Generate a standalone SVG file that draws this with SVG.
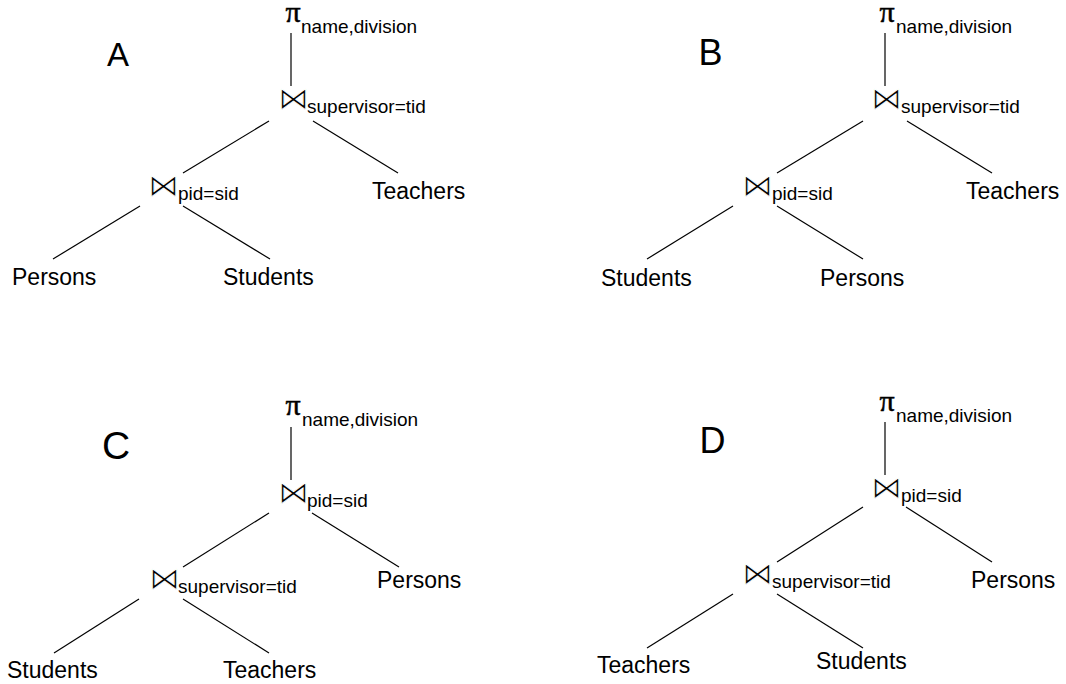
<svg xmlns="http://www.w3.org/2000/svg" width="1066" height="684" viewBox="0 0 1066 684">
<style>
text{fill:#000;font-family:"Liberation Sans",Arial,sans-serif}
.lbl{font-size:23px}
.sub{font-size:19px}
.pi{font-family:"Liberation Serif","Times New Roman",serif;font-size:30px;stroke:#000;stroke-width:0.5px}
.bt{font-family:"DejaVu Sans",sans-serif;font-size:31px;stroke:#fff;stroke-width:0.9px;paint-order:normal}
.edge line{stroke:#000;stroke-width:1.2;fill:none}
</style>
<rect width="1066" height="684" fill="#fff"/>
<g class="edge" id="connectors">
<line x1="291" y1="33" x2="291" y2="86"/>
<line x1="269" y1="121" x2="183" y2="173"/>
<line x1="313" y1="121" x2="398" y2="173"/>
<line x1="140" y1="206" x2="53" y2="259"/>
<line x1="183" y1="206" x2="270" y2="259"/>
<line x1="885" y1="33" x2="885" y2="86"/>
<line x1="863" y1="121" x2="777" y2="173"/>
<line x1="907" y1="121" x2="992" y2="173"/>
<line x1="733" y1="206" x2="647" y2="259"/>
<line x1="777" y1="206" x2="863" y2="259"/>
<line x1="291" y1="427" x2="291" y2="480"/>
<line x1="269" y1="513" x2="183" y2="567"/>
<line x1="312" y1="513" x2="399" y2="567"/>
<line x1="139" y1="599" x2="54" y2="653"/>
<line x1="183" y1="599" x2="269" y2="653"/>
<line x1="885" y1="422" x2="885" y2="475"/>
<line x1="863" y1="507" x2="777" y2="562"/>
<line x1="906" y1="507" x2="992" y2="562"/>
<line x1="733" y1="594" x2="647" y2="648"/>
<line x1="777" y1="594" x2="863" y2="648"/>
</g>
<!-- Panel A -->
<g id="labelA"><text x="107" y="65.5" font-size="33">A</text></g>
<g id="A-proj"><text><tspan class="pi" x="285.5" y="21.5">π</tspan><tspan class="sub" x="301" y="33">name,division</tspan></text></g>
<g id="A-join1"><text><tspan class="bt" x="278" y="109">⋈</tspan><tspan class="sub" x="307" y="113">supervisor=tid</tspan></text></g>
<g id="A-join2"><text><tspan class="bt" x="148" y="196">⋈</tspan><tspan class="sub" x="178" y="200">pid=sid</tspan></text></g>
<g id="A-teachers"><text class="lbl" x="372" y="199">Teachers</text></g>
<g id="A-persons"><text class="lbl" x="12" y="285">Persons</text></g>
<g id="A-students"><text class="lbl" x="223" y="285">Students</text></g>
<!-- Panel B -->
<g id="labelB"><text x="698.5" y="65" font-size="36">B</text></g>
<g id="B-proj"><text><tspan class="pi" x="879.5" y="21.5">π</tspan><tspan class="sub" x="896" y="33">name,division</tspan></text></g>
<g id="B-join1"><text><tspan class="bt" x="871" y="109">⋈</tspan><tspan class="sub" x="901" y="113">supervisor=tid</tspan></text></g>
<g id="B-join2"><text><tspan class="bt" x="742" y="196">⋈</tspan><tspan class="sub" x="772" y="200">pid=sid</tspan></text></g>
<g id="B-teachers"><text class="lbl" x="966" y="199">Teachers</text></g>
<g id="B-students"><text class="lbl" x="601" y="286">Students</text></g>
<g id="B-persons"><text class="lbl" x="820" y="286">Persons</text></g>
<!-- Panel C -->
<g id="labelC"><text x="102" y="458.5" font-size="39">C</text></g>
<g id="C-proj"><text><tspan class="pi" x="285.5" y="414.5">π</tspan><tspan class="sub" x="302" y="426">name,division</tspan></text></g>
<g id="C-join1"><text><tspan class="bt" x="278" y="503">⋈</tspan><tspan class="sub" x="307" y="507">pid=sid</tspan></text></g>
<g id="C-join2"><text><tspan class="bt" x="149" y="589">⋈</tspan><tspan class="sub" x="178" y="593">supervisor=tid</tspan></text></g>
<g id="C-persons"><text class="lbl" x="377" y="588">Persons</text></g>
<g id="C-students"><text class="lbl" x="7" y="678">Students</text></g>
<g id="C-teachers"><text class="lbl" x="223" y="678">Teachers</text></g>
<!-- Panel D -->
<g id="labelD"><text x="699.5" y="452.5" font-size="36">D</text></g>
<g id="D-proj"><text><tspan class="pi" x="879.5" y="410.5">π</tspan><tspan class="sub" x="896" y="422">name,division</tspan></text></g>
<g id="D-join1"><text><tspan class="bt" x="871" y="498">⋈</tspan><tspan class="sub" x="901" y="502">pid=sid</tspan></text></g>
<g id="D-join2"><text><tspan class="bt" x="742" y="584">⋈</tspan><tspan class="sub" x="772" y="588">supervisor=tid</tspan></text></g>
<g id="D-persons"><text class="lbl" x="971" y="588">Persons</text></g>
<g id="D-teachers"><text class="lbl" x="597" y="673">Teachers</text></g>
<g id="D-students"><text class="lbl" x="816" y="669">Students</text></g>
</svg>
